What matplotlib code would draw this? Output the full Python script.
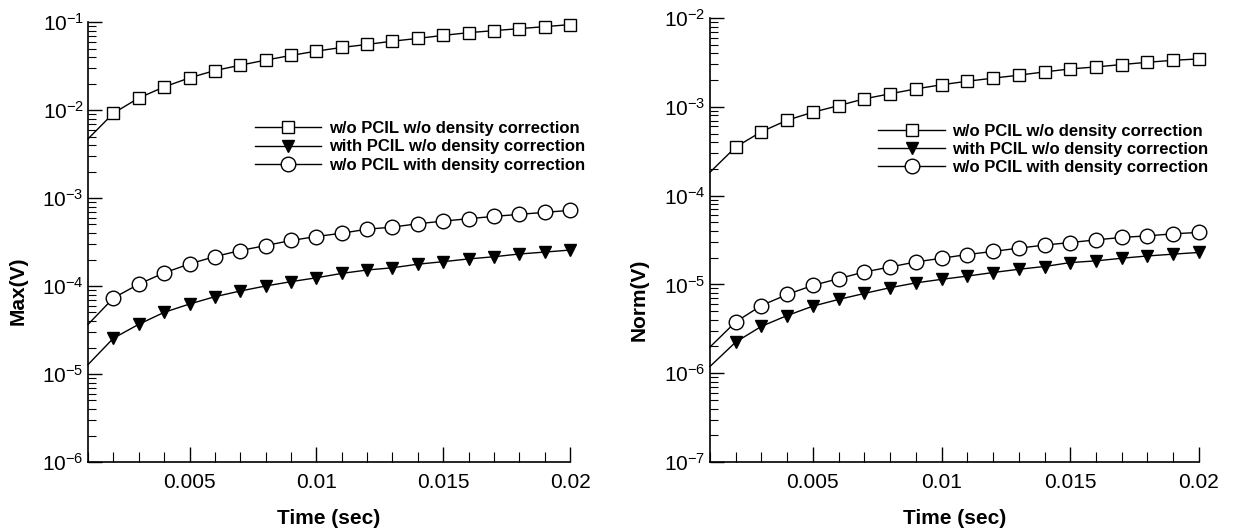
import numpy as np
import matplotlib.pyplot as plt
from matplotlib.ticker import MultipleLocator, LogLocator, NullFormatter

plt.rcParams['font.family'] = ['Liberation Sans', 'DejaVu Sans']
plt.rcParams['mathtext.fontset'] = 'custom'
plt.rcParams['mathtext.rm'] = 'Liberation Sans'

# time steps (sec); markers start at the second step
time = [0.001, 0.002, 0.003, 0.004, 0.005, 0.006, 0.007, 0.008, 0.009, 0.010,
        0.011, 0.012, 0.013, 0.014, 0.015, 0.016, 0.017, 0.018, 0.019, 0.020]

labels = ["w/o PCIL w/o density correction",
          "with PCIL w/o density correction",
          "w/o PCIL with density correction"]

# Max(V)
max_nopcil_nodens = [0.0047, 0.0092, 0.0137, 0.0183, 0.0232, 0.0281, 0.0323, 0.0369, 0.0417, 0.0467,
                     0.0514, 0.0556, 0.0606, 0.0651, 0.0705, 0.0757, 0.0798, 0.0841, 0.0886, 0.0934]
max_pcil_nodens = [1.28e-5, 2.55e-5, 3.67e-5, 5.02e-5, 6.24e-5, 7.56e-5, 8.77e-5, 1.00e-4, 1.12e-4, 1.24e-4,
                   1.39e-4, 1.52e-4, 1.61e-4, 1.77e-4, 1.89e-4, 2.03e-4, 2.15e-4, 2.31e-4, 2.43e-4, 2.56e-4]
max_nopcil_dens = [3.66e-5, 7.3e-5, 1.05e-4, 1.41e-4, 1.78e-4, 2.16e-4, 2.53e-4, 2.88e-4, 3.29e-4, 3.65e-4,
                   3.98e-4, 4.42e-4, 4.67e-4, 5.10e-4, 5.46e-4, 5.82e-4, 6.18e-4, 6.52e-4, 6.87e-4, 7.24e-4]

# Norm(V)
norm_nopcil_nodens = [1.83e-4, 3.52e-4, 5.24e-4, 7.06e-4, 8.69e-4, 1.03e-3, 1.23e-3, 1.40e-3, 1.59e-3, 1.77e-3,
                      1.94e-3, 2.10e-3, 2.27e-3, 2.47e-3, 2.67e-3, 2.81e-3, 2.99e-3, 3.17e-3, 3.34e-3, 3.46e-3]
norm_pcil_nodens = [1.19e-6, 2.24e-6, 3.37e-6, 4.46e-6, 5.69e-6, 6.77e-6, 7.91e-6, 9.18e-6, 1.04e-5, 1.14e-5,
                    1.24e-5, 1.36e-5, 1.48e-5, 1.59e-5, 1.76e-5, 1.84e-5, 1.97e-5, 2.09e-5, 2.19e-5, 2.29e-5]
norm_nopcil_dens = [1.97e-6, 3.78e-6, 5.78e-6, 7.70e-6, 9.75e-6, 1.16e-5, 1.38e-5, 1.57e-5, 1.79e-5, 1.97e-5,
                    2.17e-5, 2.35e-5, 2.56e-5, 2.77e-5, 2.96e-5, 3.17e-5, 3.38e-5, 3.52e-5, 3.71e-5, 3.85e-5]

styles = [dict(marker='s', markersize=8.5, markerfacecolor='white'),
          dict(marker='v', markersize=9, markerfacecolor='black'),
          dict(marker='o', markersize=10.5, markerfacecolor='white')]

fig = plt.figure(figsize=(12.33, 5.32), dpi=100)
ax1 = fig.add_axes([0.0714, 0.1316, 0.3909, 0.827])
ax2 = fig.add_axes([0.5758, 0.1316, 0.3966, 0.8346])


def draw(ax, series, ylim, ylabel, label_y, leg_anchor):
    for ys, st, lab in zip(series, styles, labels):
        ax.plot(time, ys, color='black', lw=1.0, markeredgecolor='black',
                markeredgewidth=1.0, markevery=slice(1, None), label=lab,
                clip_on=False, zorder=3, **st)
    ax.set_yscale('log')
    ax.set_xlim(0.001, 0.02)
    ax.set_ylim(*ylim)
    ax.spines['top'].set_visible(False)
    ax.spines['right'].set_visible(False)
    ax.spines['left'].set_linewidth(1.2)
    ax.spines['bottom'].set_linewidth(1.2)
    ax.xaxis.set_minor_locator(MultipleLocator(0.001))
    ax.set_xticks([0.005, 0.01, 0.015, 0.02])
    ax.set_xticklabels(['0.005', '0.01', '0.015', '0.02'])
    ax.yaxis.set_major_locator(LogLocator(base=10, numticks=20))
    ax.yaxis.set_minor_locator(LogLocator(base=10, subs=np.arange(2, 10), numticks=20))
    ax.yaxis.set_minor_formatter(NullFormatter())
    ax.tick_params(which='major', direction='in', length=10, width=1.0, labelsize=15, pad=3)
    ax.tick_params(which='minor', direction='in', length=6, width=0.8)
    ax.tick_params(axis='x', which='major', length=11, pad=8)
    ax.tick_params(axis='x', which='minor', length=7)
    ax.set_xlabel('Time (sec)', fontsize=15, fontweight='bold', labelpad=12)
    ax.set_ylabel(ylabel, fontsize=15, fontweight='bold')
    ax.yaxis.set_label_coords(-0.125, label_y)
    ax.legend(loc='upper left', bbox_to_anchor=leg_anchor, frameon=False,
              prop=dict(size=12, weight='bold'), handlelength=4.0,
              handletextpad=0.45, labelspacing=0.2, borderpad=0, borderaxespad=0)


draw(ax1, [max_nopcil_nodens, max_pcil_nodens, max_nopcil_dens],
     (1e-6, 1e-1), 'Max(V)', 0.39, (0.346, 0.775))
draw(ax2, [norm_nopcil_nodens, norm_pcil_nodens, norm_nopcil_dens],
     (1e-7, 1e-2), 'Norm(V)', 0.365, (0.344, 0.762))

fig.savefig('out.png', dpi=100)
